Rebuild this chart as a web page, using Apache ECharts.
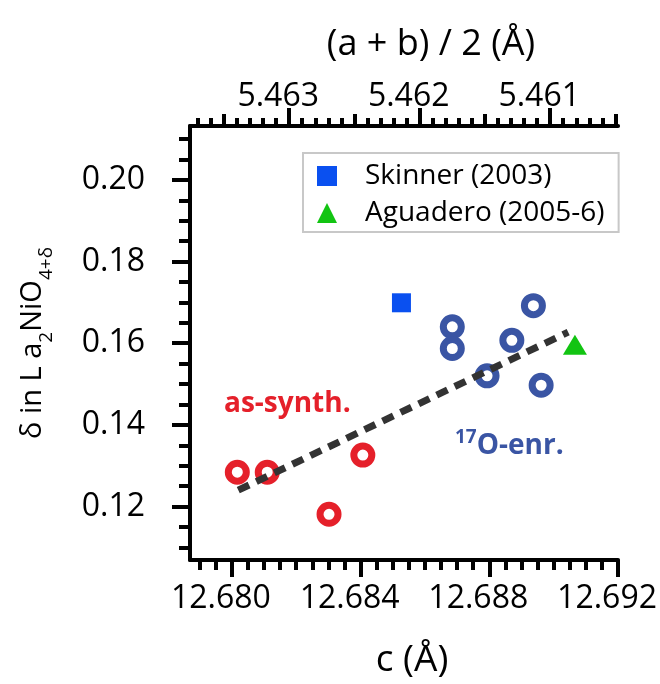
<!DOCTYPE html>
<html>
<head>
<meta charset="utf-8">
<script src="https://cdn.jsdelivr.net/npm/echarts@6/dist/echarts.min.js"></script>
<style>
  html, body { margin: 0; padding: 0; background: #fff; }
  #chart { width: 660px; height: 684px; }
</style>
</head>
<body>
<div id="chart"></div>
<script>
// 数据：c 轴晶格参数 与 δ
var asSynthC = [12.68017, 12.68110, 12.68302, 12.68407];
var asSynthDelta = [0.1284, 0.1284, 0.1181, 0.1326];
var enrC = [12.68685, 12.68685, 12.68793, 12.68870, 12.68937, 12.68961];
var enrDelta = [0.1640, 0.1587, 0.1520, 0.1607, 0.1692, 0.1497];
var skinnerC = [12.68527];
var skinnerDelta = [0.1699];
var aguaderoC = [12.69066];
var aguaderoDelta = [0.1596];
var fitC = [12.68020, 12.69045];
var fitDelta = [0.1240, 0.1627];

// 刻度
var xMajor = [12.680, 12.684, 12.688, 12.692];
var yMajor = [0.12, 0.14, 0.16, 0.18, 0.20];
var topMajor = [5.461, 5.462, 5.463];
var topMid = [5.4605, 5.4615, 5.4625, 5.4635];

var X_MIN = 12.6787, X_MAX = 12.692;
var Y_MIN = 0.1069, Y_MAX = 0.2132;
var TOP_MIN = 5.46048, TOP_MAX = 5.46376;

var FONT = '"Open Sans", "Noto Sans", sans-serif';
var RED = '#e5202a', BLUE = '#3a55a4';

// minor tick positions between start and end, skipping the ones in skip
function ticks(start, end, step, skip) {
    var out = [];
    var n = Math.round((end - start) / step);
    for (var i = 0; i <= n; i++) {
        var v = +(start + i * step).toFixed(6);
        var hit = skip.some(function (s) { return Math.abs(s - v) < step / 10; });
        if (!hit) out.push(v);
    }
    return out;
}
var xMinor = ticks(12.679, 12.6915, 0.0005, xMajor);
var yMinor = ticks(0.110, 0.210, 0.005, yMajor);
var topMinor = ticks(5.4605, 5.4637, 0.0001, topMajor.concat(topMid));

function pairs(xs, ys) {
    return xs.map(function (x, i) { return [x, ys[i]]; });
}

var lineBlack = { color: '#000', width: 4 };

function tickAxis(pos, min, max, values, len, extra) {
    var ax = {
        type: 'value', position: pos, min: min, max: max,
        axisLine: { show: false },
        axisTick: { show: true, customValues: values, length: len, lineStyle: lineBlack },
        axisLabel: { show: false },
        splitLine: { show: false }
    };
    return Object.assign(ax, extra || {});
}

var chart = echarts.init(document.getElementById('chart'));

var option = {
    animation: false,
    backgroundColor: '#fff',
    textStyle: { fontFamily: FONT },
    grid: { left: 190, top: 126, right: 38.5, bottom: 121.7 },
    legend: {
        data: ['Skinner (2003)', 'Aguadero (2005-6)'],
        orient: 'vertical',
        left: 303, top: 153,
        padding: [8, 14, 4, 14],
        itemGap: 7,
        itemWidth: 20, itemHeight: 20,
        borderColor: '#c8c8c8', borderWidth: 2,
        backgroundColor: '#fff',
        textStyle: { fontSize: 28, lineHeight: 30, color: '#000', fontFamily: FONT, padding: [0, 0, 0, 23] }
    },
    xAxis: [
        {
            type: 'value', position: 'bottom', min: X_MIN, max: X_MAX,
            name: 'c (Å)', nameLocation: 'middle', nameGap: 82,
            nameTextStyle: { fontSize: 37, color: '#000', fontFamily: FONT, padding: [0, 0, 0, 16] },
            axisLine: { show: true, lineStyle: lineBlack },
            axisTick: { show: true, customValues: xMajor, length: 17, lineStyle: lineBlack },
            axisLabel: {
                customValues: xMajor, fontSize: 32, color: '#000', fontFamily: FONT, margin: 23,
                padding: [0, 22, 0, 0],
                formatter: function (v) { return v.toFixed(3); }
            },
            splitLine: { show: false }
        },
        tickAxis('bottom', X_MIN, X_MAX, xMinor, 10),
        {
            type: 'value', position: 'top', min: TOP_MIN, max: TOP_MAX, inverse: true,
            name: '(a + b) / 2 (Å)', nameLocation: 'middle', nameGap: 63,
            nameTextStyle: { fontSize: 36, color: '#000', fontFamily: FONT, padding: [0, 0, 0, 54] },
            axisLine: { show: true, lineStyle: lineBlack },
            axisTick: { show: true, customValues: topMajor, length: 18, lineStyle: lineBlack },
            axisLabel: {
                customValues: topMajor, fontSize: 32, color: '#000', fontFamily: FONT, margin: 13,
                padding: [0, 22, 0, 0],
                formatter: function (v) { return v.toFixed(3); }
            },
            splitLine: { show: false }
        },
        tickAxis('top', TOP_MIN, TOP_MAX, topMid, 12, { inverse: true }),
        tickAxis('top', TOP_MIN, TOP_MAX, topMinor, 8, { inverse: true })
    ],
    yAxis: [
        {
            type: 'value', position: 'left', min: Y_MIN, max: Y_MAX,
            name: '{m|δ in L a}{s|2}{m|NiO}{s|4+δ}',
            nameLocation: 'middle', nameRotate: 90, nameGap: 134,
            nameTextStyle: {
                color: '#000',
                rich: {
                    m: { fontSize: 29, lineHeight: 46, fontFamily: FONT, color: '#000' },
                    s: { fontSize: 19, lineHeight: 19, verticalAlign: 'bottom', fontFamily: FONT, color: '#000' }
                }
            },
            axisLine: { show: true, lineStyle: lineBlack },
            axisTick: { show: true, customValues: yMajor, length: 18, lineStyle: lineBlack },
            axisLabel: {
                customValues: yMajor, fontSize: 32, color: '#000', fontFamily: FONT, margin: 45,
                formatter: function (v) { return v.toFixed(2); }
            },
            splitLine: { show: false }
        },
        tickAxis('left', Y_MIN, Y_MAX, yMinor, 11)
    ],
    series: [
        {
            name: 'as-synth.', type: 'scatter', z: 2,
            data: pairs(asSynthC, asSynthDelta),
            symbol: 'circle', symbolSize: 18,
            itemStyle: { color: '#fff', borderColor: RED, borderWidth: 7, opacity: 1 }
        },
        {
            name: '17O-enr.', type: 'scatter', z: 2,
            data: pairs(enrC, enrDelta),
            symbol: 'circle', symbolSize: 18,
            itemStyle: { color: '#fff', borderColor: BLUE, borderWidth: 7, opacity: 1 }
        },
        {
            name: 'Skinner (2003)', type: 'scatter', z: 2,
            data: pairs(skinnerC, skinnerDelta),
            symbol: 'rect', symbolSize: 19,
            itemStyle: { color: '#0a50f0', opacity: 1 }
        },
        {
            name: 'Aguadero (2005-6)', type: 'scatter', z: 2,
            data: pairs(aguaderoC, aguaderoDelta),
            symbol: 'triangle', symbolSize: [24, 20],
            itemStyle: { color: '#12c412', opacity: 1 }
        },
        {
            name: 'fit', type: 'line', z: 4,
            data: pairs(fitC, fitDelta),
            symbol: 'none',
            lineStyle: { color: '#333', width: 7, type: [12, 8] }
        }
    ],
    graphic: [
        {
            type: 'text', x: 224, y: 404,
            style: { text: 'as-synth.', fill: RED, font: 'bold 28px ' + FONT, verticalAlign: 'middle' }
        },
        {
            type: 'text', x: 455, y: 446,
            style: {
                text: '{s|17}{m|O-enr.}', verticalAlign: 'middle',
                rich: {
                    s: { fontSize: 19, fontWeight: 'bold', fontFamily: FONT, fill: BLUE, lineHeight: 19, verticalAlign: 'top' },
                    m: { fontSize: 28, fontWeight: 'bold', fontFamily: FONT, fill: BLUE, lineHeight: 36 }
                }
            }
        }
    ]
};

chart.setOption(option);
</script>
</body>
</html>
